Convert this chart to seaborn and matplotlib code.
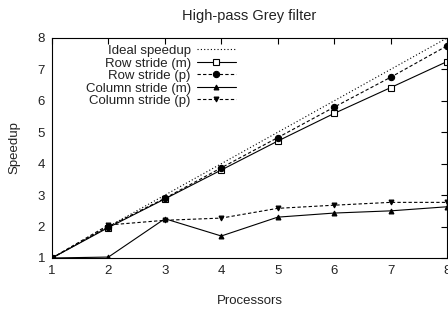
import matplotlib
matplotlib.use("Agg")
import matplotlib.pyplot as plt
import seaborn as sns
import pandas as pd

processors = [1, 2, 3, 4, 5, 6, 7, 8]
ideal = [1, 2, 3, 4, 5, 6, 7, 8]
row_m = [1, 1.97, 2.88, 3.80, 4.72, 5.60, 6.42, 7.25]
row_p = [1, 2.00, 2.90, 3.87, 4.83, 5.80, 6.75, 7.75]
col_m = [1, 1.03, 2.25, 1.70, 2.30, 2.43, 2.50, 2.63]
col_p = [1, 2.05, 2.20, 2.27, 2.58, 2.68, 2.77, 2.77]
series_names = ["Ideal speedup", "Row stride (m)", "Row stride (p)",
                "Column stride (m)", "Column stride (p)"]
yticks = [1, 2, 3, 4, 5, 6, 7, 8]

sns.set_theme(style="white")
plt.rcParams['font.family'] = ['Liberation Sans', 'DejaVu Sans']
plt.rcParams['font.size'] = 9

df = pd.DataFrame({"Processors": processors * 5,
                   "Speedup": ideal + row_m + row_p + col_m + col_p,
                   "series": sum([[n] * 8 for n in series_names], [])})

fig = plt.figure(figsize=(4.48, 3.23), dpi=100)
ax = fig.add_axes([52/448, 1 - 258/323, (447-52)/448, (258-38)/323])

styles = {
    "Ideal speedup": dict(linestyle=(0, (1, 2)), marker=None),
    "Row stride (m)": dict(linestyle="-", marker="s", markerfacecolor="white", markersize=5),
    "Row stride (p)": dict(linestyle=(0, (3, 2)), marker="o", markersize=4.5),
    "Column stride (m)": dict(linestyle="-", marker="^", markersize=3.5),
    "Column stride (p)": dict(linestyle=(0, (3, 2)), marker="v", markersize=3.5),
}
for name in series_names:
    sub = df[df.series == name]
    st = styles[name]
    sns.lineplot(data=sub, x="Processors", y="Speedup", ax=ax, color="black",
                 linewidth=0.8, label=name, markeredgecolor="black",
                 markeredgewidth=0.8, **st)

ax.set_xlim(1, 8)
ax.set_ylim(1, 8)
ax.set_xticks(processors)
ax.set_yticks(yticks)
ax.tick_params(direction="in", top=True, right=True, length=4, width=0.8,
               colors="black", labelsize=9.5, pad=5)
for lbl in ax.get_xticklabels() + ax.get_yticklabels():
    lbl.set_color("#222222")
for s in ax.spines.values():
    s.set_color("black")
    s.set_linewidth(0.8)
ax.set_xlabel("Processors", fontsize=9.5, color="#222222", labelpad=13)
ax.set_ylabel("Speedup", fontsize=9.5, color="#222222", labelpad=12)
ax.set_title("High-pass Grey filter", fontsize=10.5, color="#222222", pad=13)

leg = ax.legend(loc="upper left", frameon=False, markerfirst=False,
                fontsize=9.5, handlelength=2.9, labelspacing=0.02,
                handletextpad=0.5, borderaxespad=0.2,
                bbox_to_anchor=(0.065, 1.005))
for t in leg.get_texts():
    t.set_color("#222222")

fig.savefig("out.png", dpi=100)
